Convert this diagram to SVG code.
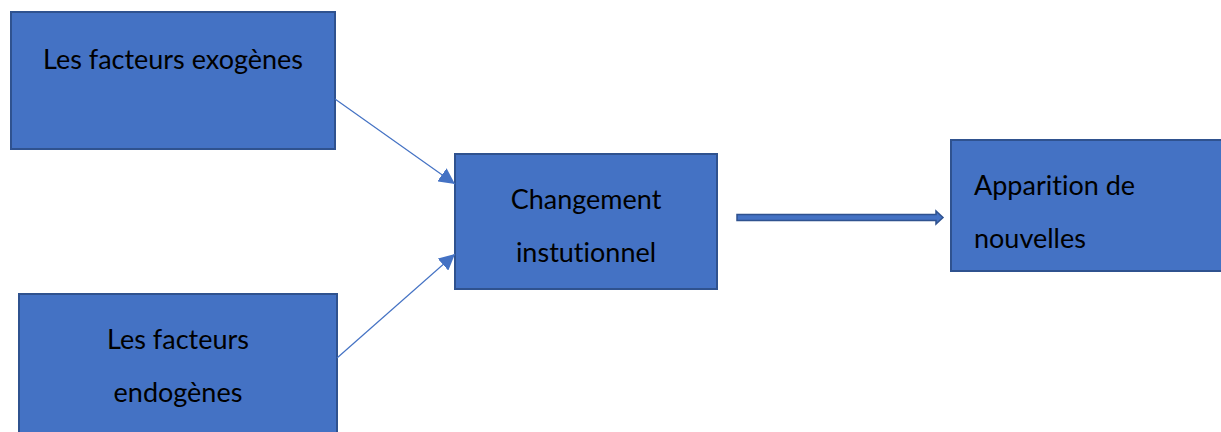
<svg xmlns="http://www.w3.org/2000/svg" width="1221" height="432" viewBox="0 0 1221 432">
<style>
.box{fill:#4472C4;stroke:#2F528F;stroke-width:2}
.t{font-family:Lato,"Liberation Sans",sans-serif;font-size:27px;fill:#000;font-variant-ligatures:none}
.c{text-anchor:middle}
.ln{stroke:#4472C4;stroke-width:1.2;fill:none}
</style>
<defs>
<marker id="ah" viewBox="0 0 10 10" refX="10" refY="5" markerWidth="16" markerHeight="16" markerUnits="userSpaceOnUse" orient="auto">
<path d="M0,0 L10,5 L0,10 z" fill="#4472C4"/>
</marker>
</defs>
<rect width="1221" height="432" fill="#fff"/>
<g id="exogenes">
<rect class="box" x="11" y="12" width="324" height="137"/>
<text class="t c" x="173" y="69">Les facteurs exogènes</text>
</g>
<g id="endogenes">
<rect class="box" x="19" y="294" width="318" height="150"/>
<text class="t c" x="178" y="349">Les facteurs</text>
<text class="t c" x="178" y="402">endogènes</text>
</g>
<g id="changement">
<rect class="box" x="455" y="154" width="262" height="135"/>
<text class="t c" x="586" y="209">Changement</text>
<text class="t c" x="586" y="262">instutionnel</text>
</g>
<g id="apparition">
<rect class="box" x="951" y="140" width="280" height="131"/>
<text class="t" x="974" y="195">Apparition de</text>
<text class="t" x="974" y="248">nouvelles</text>
</g>
<g id="connectors">
<line class="ln" x1="335" y1="99" x2="455" y2="184" marker-end="url(#ah)"/>
<line class="ln" x1="337" y1="358" x2="455" y2="254" marker-end="url(#ah)"/>
<path d="M737,214.5 L936,214.5 L936,211 L943,217.5 L936,224 L936,220.5 L737,220.5 Z" fill="#4472C4" stroke="#2F528F" stroke-width="1.5"/>
</g>
</svg>
